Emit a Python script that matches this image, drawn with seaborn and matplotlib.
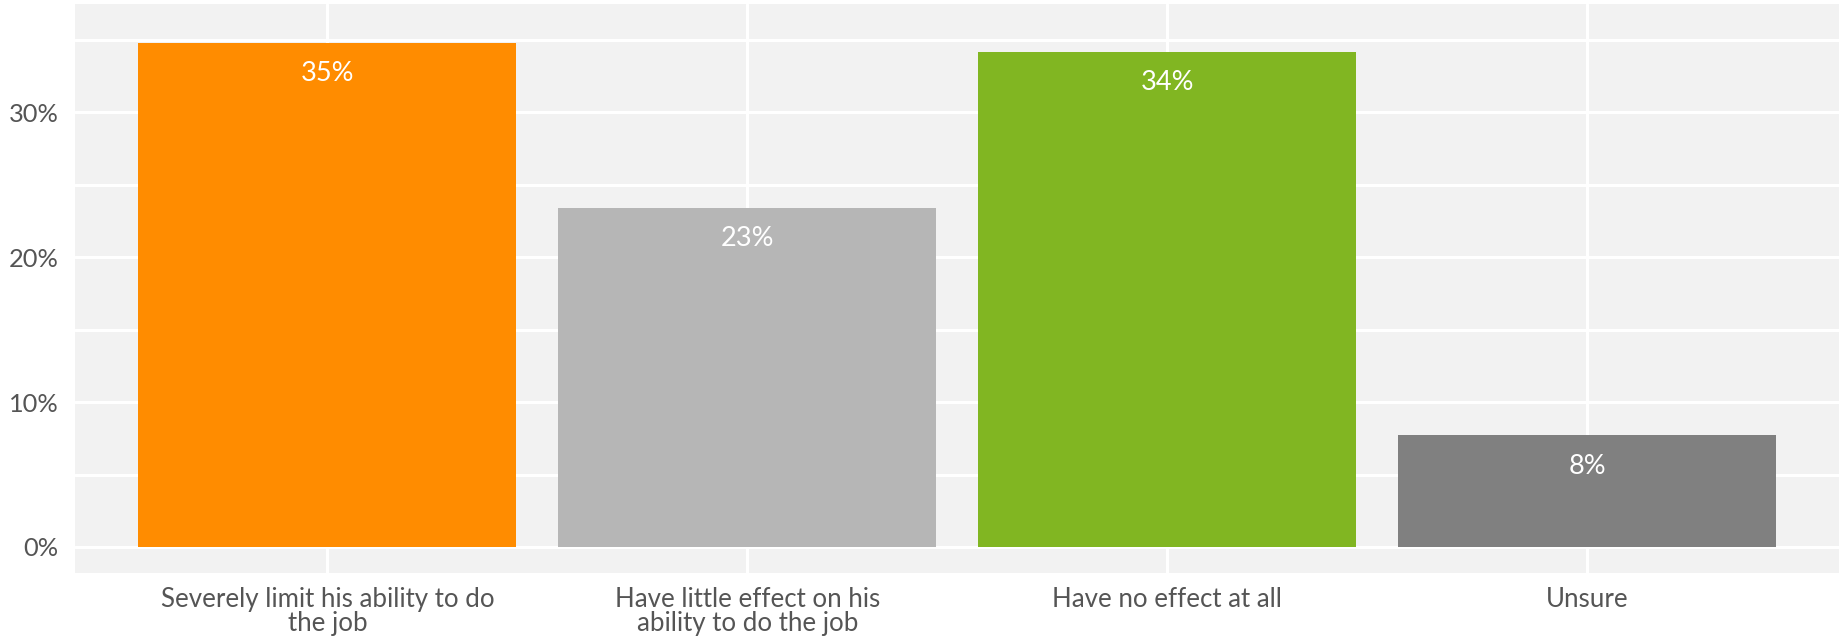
import pandas as pd
import seaborn as sns
import numpy as np
import matplotlib
import matplotlib.pyplot as plt
from matplotlib.ticker import MultipleLocator

# data
answers = ["Severely limit his ability to do\nthe job",
           "Have little effect on his\nability to do the job",
           "Have no effect at all",
           "Unsure"]
shares = [34.8, 23.4, 34.2, 7.7]
labels = ["35%", "23%", "34%", "8%"]
colors = ["#FF8C00", "#B6B6B6", "#81B622", "#808080"]

df = pd.DataFrame({"answer": answers, "share": shares})

sns.set_theme(style="darkgrid", rc={"axes.facecolor": "#F2F2F2",
                                    "grid.color": "white",
                                    "grid.linewidth": 2.2})
plt.rcParams["font.family"] = ["Lato", "DejaVu Sans"]

fig, ax = plt.subplots(figsize=(18.41, 6.41), dpi=100)
fig.subplots_adjust(left=0.041, right=0.999, top=0.994, bottom=0.106)

sns.barplot(data=df, x="answer", y="share", hue="answer", palette=colors,
            width=0.9, saturation=1, legend=False, linewidth=0,
            ax=ax, zorder=2)

for i, (v, t) in enumerate(zip(shares, labels)):
    ax.annotate(t, (i, v), xytext=(0, -22), textcoords="offset points",
                ha="center", va="center", color="white", fontsize=19.5)

ax.set_xlim(-0.6, 3.6)
ax.set_ylim(-1.8, 37.5)
ax.set_yticks([0, 10, 20, 30])
ax.set_yticklabels(["0%", "10%", "20%", "30%"])
ax.yaxis.set_minor_locator(MultipleLocator(5))
ax.grid(which="major", axis="both", color="white", linewidth=2.2)
ax.grid(which="minor", axis="y", color="white", linewidth=2.2)
ax.set_axisbelow(True)
ax.set_xlabel("")
ax.set_ylabel("")
ax.tick_params(axis="x", labelsize=18.6, labelcolor="#555555", pad=4)
ax.tick_params(axis="y", labelsize=18.3, labelcolor="#555555", pad=6)
for t in ax.get_xticklabels():
    t.set_linespacing(0.95)
for s in ax.spines.values():
    s.set_visible(False)

fig.savefig("out.png", dpi=100)
